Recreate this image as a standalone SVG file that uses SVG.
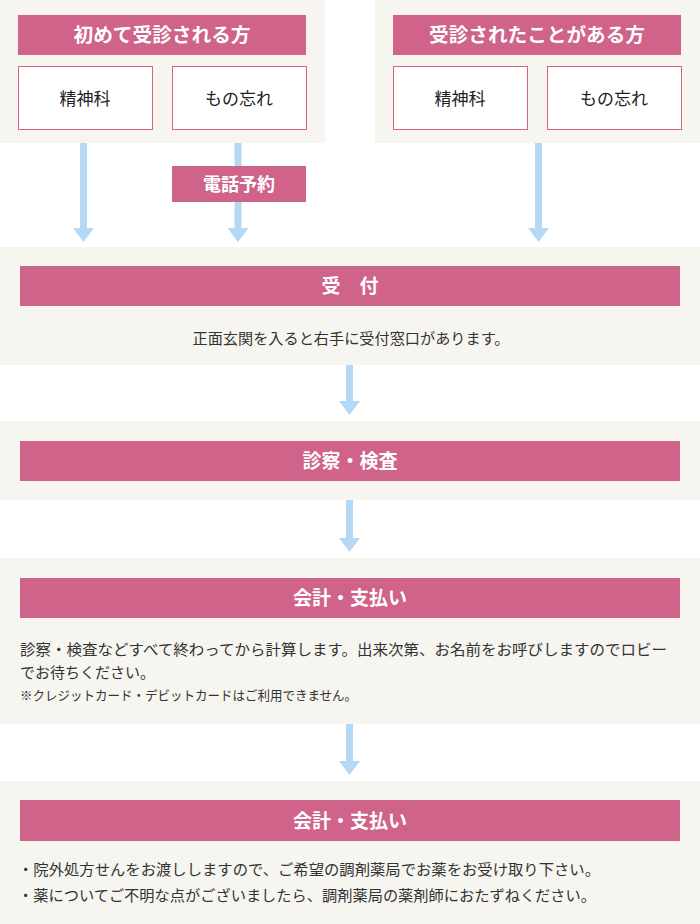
<svg xmlns="http://www.w3.org/2000/svg" width="700" height="924" viewBox="0 0 700 924">
<style>
.panel{fill:#f6f5f0}
.bar{fill:#cf6389}
.box{fill:#ffffff;stroke:#d9657c;stroke-width:1}
.ht{font-family:"Noto Sans CJK JP","Noto Sans",sans-serif;font-weight:700;font-size:19px;fill:#ffffff;text-anchor:middle}
.bt{font-family:"Noto Sans CJK JP","Noto Sans",sans-serif;font-size:17px;fill:#222222;text-anchor:middle}
.tx{font-family:"Noto Sans CJK JP","Noto Sans",sans-serif;font-size:15px;fill:#333333}
.sm{font-family:"Noto Sans CJK JP","Noto Sans",sans-serif;font-size:13px;fill:#333333}
.arr{fill:#b5d9f4}
</style>
<rect width="700" height="924" fill="#ffffff"/>

<g id="first-visit">
<rect class="panel" x="0" y="0" width="325" height="143"/>
<rect class="bar" x="18" y="15" width="288" height="40"/>
<text class="ht" x="162" y="42" textLength="177" lengthAdjust="spacingAndGlyphs">初めて受診される方</text>
</g>
<g id="first-psychiatry">
<rect class="box" x="18.5" y="66.5" width="134" height="63"/>
<text class="bt" x="85" y="105">精神科</text>
</g>
<g id="first-memory">
<rect class="box" x="172.5" y="66.5" width="134" height="63"/>
<text class="bt" x="239" y="105">もの忘れ</text>
</g>

<g id="return-visit">
<rect class="panel" x="375" y="0" width="325" height="143"/>
<rect class="bar" x="393" y="15" width="288" height="40"/>
<text class="ht" x="537" y="42" textLength="216" lengthAdjust="spacingAndGlyphs">受診されたことがある方</text>
</g>
<g id="return-psychiatry">
<rect class="box" x="393.5" y="66.5" width="134" height="63"/>
<text class="bt" x="460" y="105">精神科</text>
</g>
<g id="return-memory">
<rect class="box" x="547.5" y="66.5" width="134" height="63"/>
<text class="bt" x="614" y="105">もの忘れ</text>
</g>

<g id="connectors">
<rect class="arr" x="80" y="143" width="7" height="86"/>
<polygon class="arr" points="73,228 94,228 83.5,242"/>
<rect class="arr" x="234.5" y="143" width="7" height="86"/>
<polygon class="arr" points="227.5,228 248.5,228 238,242"/>
<rect class="arr" x="535" y="143" width="7" height="86"/>
<polygon class="arr" points="528,228 549,228 538.5,242"/>
<rect class="arr" x="346" y="365" width="7" height="37"/>
<polygon class="arr" points="339,401 360,401 349.5,415"/>
<rect class="arr" x="346" y="500" width="7" height="39"/>
<polygon class="arr" points="339,538 360,538 349.5,552"/>
<rect class="arr" x="346" y="724" width="7" height="38"/>
<polygon class="arr" points="339,761 360,761 349.5,775"/>
</g>

<g id="phone-reservation">
<rect class="bar" x="172" y="166" width="134" height="36"/>
<text class="ht" x="239" y="191" style="font-size:18px">電話予約</text>
</g>

<g id="reception">
<rect class="panel" x="0" y="247" width="700" height="118"/>
<rect class="bar" x="20" y="266" width="660" height="40"/>
<text class="ht" x="350" y="293">受　付</text>
<text class="tx" x="351" y="344" text-anchor="middle" textLength="317" lengthAdjust="spacingAndGlyphs">正面玄関を入ると右手に受付窓口があります。</text>
</g>

<g id="examination">
<rect class="panel" x="0" y="421" width="700" height="79"/>
<rect class="bar" x="20" y="441" width="660" height="40"/>
<text class="ht" x="350" y="468">診察・検査</text>
</g>

<g id="payment">
<rect class="panel" x="0" y="558" width="700" height="166"/>
<rect class="bar" x="20" y="578" width="660" height="40"/>
<text class="ht" x="350" y="605">会計・支払い</text>
<text class="tx" x="20" y="655" textLength="647" lengthAdjust="spacingAndGlyphs">診察・検査などすべて終わってから計算します。出来次第、お名前をお呼びしますのでロビー</text>
<text class="tx" x="20" y="678">でお待ちください。</text>
<text class="sm" x="20" y="700" textLength="337" lengthAdjust="spacingAndGlyphs">※クレジットカード・デビットカードはご利用できません。</text>
</g>

<g id="prescription">
<rect class="panel" x="0" y="781" width="700" height="143"/>
<rect class="bar" x="20" y="800" width="660" height="41"/>
<text class="ht" x="350" y="828">会計・支払い</text>
<text class="tx" x="18" y="875" textLength="582" lengthAdjust="spacingAndGlyphs">・院外処方せんをお渡ししますので、ご希望の調剤薬局でお薬をお受け取り下さい。</text>
<text class="tx" x="18" y="901" textLength="578" lengthAdjust="spacingAndGlyphs">・薬についてご不明な点がございましたら、調剤薬局の薬剤師におたずねください。</text>
</g>
</svg>
